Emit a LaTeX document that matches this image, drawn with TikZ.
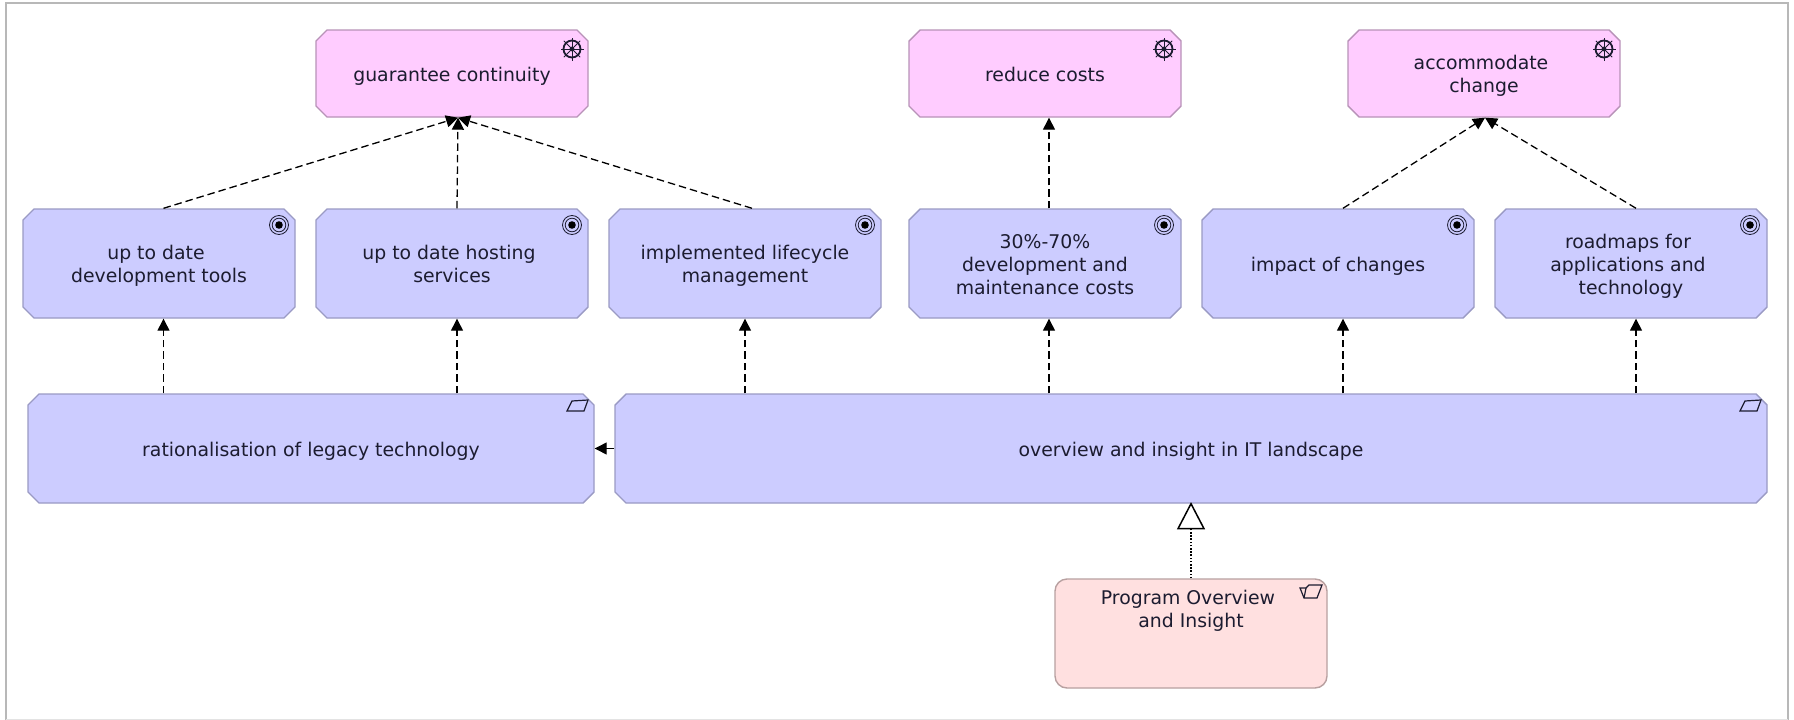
\documentclass[tikz,border=0pt]{standalone}
\usepackage{fontspec}
\setmainfont{DejaVu Sans}
\usetikzlibrary{shapes.misc,arrows.meta}
\definecolor{framegray}{HTML}{B8B8B8}
\definecolor{bluefill}{HTML}{CCCCFF}
\definecolor{blueline}{HTML}{9A9AC4}
\definecolor{pinkfill}{HTML}{FFCCFF}
\definecolor{pinkline}{HTML}{B892B8}
\definecolor{redfill}{HTML}{FFE0E0}
\definecolor{redline}{HTML}{B8A0A0}
\definecolor{inkdark}{HTML}{1C1C30}
\newcommand{\ls}{\rule[-4pt]{0pt}{23pt}}
\newcommand{\tr}{\rule{6pt}{0pt}}
\tikzset{
  x=1pt,y=-1pt,
  labelfont/.style={font=\fontsize{18.85}{23}\selectfont},
  elem/.style={chamfered rectangle,chamfered rectangle xsep=5.5pt,chamfered rectangle ysep=5.5pt,
    draw,line width=1.4pt,inner sep=0pt,align=center,text=inkdark,labelfont,anchor=center},
  bluebox/.style={elem,fill=bluefill,draw=blueline,minimum width=272pt,minimum height=109pt},
  goalbox/.style={elem,fill=pinkfill,draw=pinkline,minimum width=272pt,minimum height=87pt},
  longbox/.style={elem,fill=bluefill,draw=blueline,minimum height=109pt},
  realize/.style={line width=1.3pt,dash pattern=on 7.5pt off 4pt,-{Triangle[length=12pt,width=12pt]},black},
  trigger/.style={line width=1.3pt,-{Triangle[length=12pt,width=12pt]},black},
  iconline/.style={inkdark,line width=1.2pt},
}
\newcommand{\goalicon}[2]{%
  \begin{scope}[shift={(#1,#2)}]
    \draw[inkdark,line width=1.8pt] (0,0) circle (8.5pt);
    \fill[inkdark] (0,0) circle (2.4pt);
    \foreach \a in {0,45,...,315} \draw[inkdark,line width=1pt] (0,0) -- (\a:11.5pt);
  \end{scope}}
\newcommand{\targeticon}[2]{%
  \begin{scope}[shift={(#1,#2)}]
    \draw[inkdark,line width=.8pt] (0,0) circle (9.5pt);
    \draw[inkdark,line width=.8pt] (0,0) circle (6.8pt);
    \fill[black] (0,0) circle (3.8pt);
  \end{scope}}
\newcommand{\outcomeicon}[2]{%
  \draw[iconline] (#1-27,#2+17) -- (#1-22,#2+7) -- (#1-6,#2+6) -- (#1-10,#2+17) -- cycle;}
\begin{document}
\begin{tikzpicture}
\useasboundingbox (0,0) rectangle (1794,720);
\fill[white] (0,0) rectangle (1794,720);
\draw[framegray,line width=2.4pt] (6,721) -- (6,3) -- (1788,3) -- (1788,721);
\draw[framegray!40,line width=1pt] (6,719) -- (1788,719);

\node[goalbox] (g1) at (452,73.5) {\ls guarantee continuity};
\node[goalbox] (g2) at (1045,73.5) {\ls reduce costs};
\node[goalbox] (g3) at (1484,73.5) {\ls accommodate\tr\\\ls change};

\node[bluebox] (r1) at (159,263.5) {\ls up to date\tr\\\ls development tools};
\node[bluebox] (r2) at (452,263.5) {\ls up to date hosting\tr\\\ls services};
\node[bluebox] (r3) at (745,263.5) {\ls implemented lifecycle\\\ls management};
\node[bluebox] (r4) at (1045,263.5) {\ls 30\%-70\%\\\ls development and\\\ls maintenance costs};
\node[bluebox] (r5) at (1338,263.5) {\ls impact of changes};
\node[bluebox] (r6) at (1631,263.5) {\ls roadmaps for\tr\\\ls applications and\tr\\\ls technology};

\node[longbox,minimum width=566pt] (o1) at (311,448.5) {\ls rationalisation of legacy technology};
\node[longbox,minimum width=1152pt] (o2) at (1191,448.5) {\ls overview and insight in IT landscape};

\node[draw=redline,fill=redfill,line width=1.4pt,rounded corners=12pt,minimum width=272pt,minimum height=109pt,inner sep=0pt] (p) at (1191,633.5) {};
\node[text=inkdark,labelfont,align=center,anchor=north,inner sep=0pt] (ptext) at (1191,585) {\ls Program Overview\tr\\\ls and Insight};

\goalicon{572}{49}
\goalicon{1164}{49}
\goalicon{1604}{49}
\foreach \x in {279,572,865,1164,1457,1750} {\targeticon{\x}{225}}
\outcomeicon{594}{394}
\outcomeicon{1767}{394}
\draw[iconline] (1322,585) -- (1309,585) -- (1306,588) -- (1300,588) -- (1304,598) -- (1317,598) -- cycle;
\draw[iconline] (1306,588) -- (1304,598);

\draw[realize] ([xshift=4.5pt]r1.north) -- ([xshift=6pt]g1.south);
\draw[realize] ([xshift=5pt]r2.north) -- ([xshift=6pt]g1.south);
\draw[realize] ([xshift=7pt]r3.north) -- ([xshift=6pt]g1.south);
\draw[realize] ([xshift=4pt]r4.north) -- ([xshift=4pt]g2.south);
\draw[realize] ([xshift=5pt]r5.north) -- ([xshift=1pt]g3.south);
\draw[realize] ([xshift=5pt]r6.north) -- ([xshift=1pt]g3.south);

\draw[realize] ([xshift=-147.5pt]o1.north) -- ([xshift=4.5pt]r1.south);
\draw[realize] ([xshift=146pt]o1.north) -- ([xshift=5pt]r2.south);
\draw[realize] ([xshift=-446pt]o2.north) -- (r3.south);
\draw[realize] ([xshift=-142pt]o2.north) -- ([xshift=4pt]r4.south);
\draw[realize] ([xshift=152pt]o2.north) -- ([xshift=5pt]r5.south);
\draw[realize] ([xshift=445pt]o2.north) -- ([xshift=5pt]r6.south);

\draw[trigger] (o2.west) -- (o1.east);
\draw[line width=1.4pt,dash pattern=on 1.6pt off 1.6pt,black] (p.north) -- (1191,528);
\draw[line width=1.5pt,black] (o2.south) -- ++(13,25) -- ++(-26,0) -- cycle;
\end{tikzpicture}
\end{document}
